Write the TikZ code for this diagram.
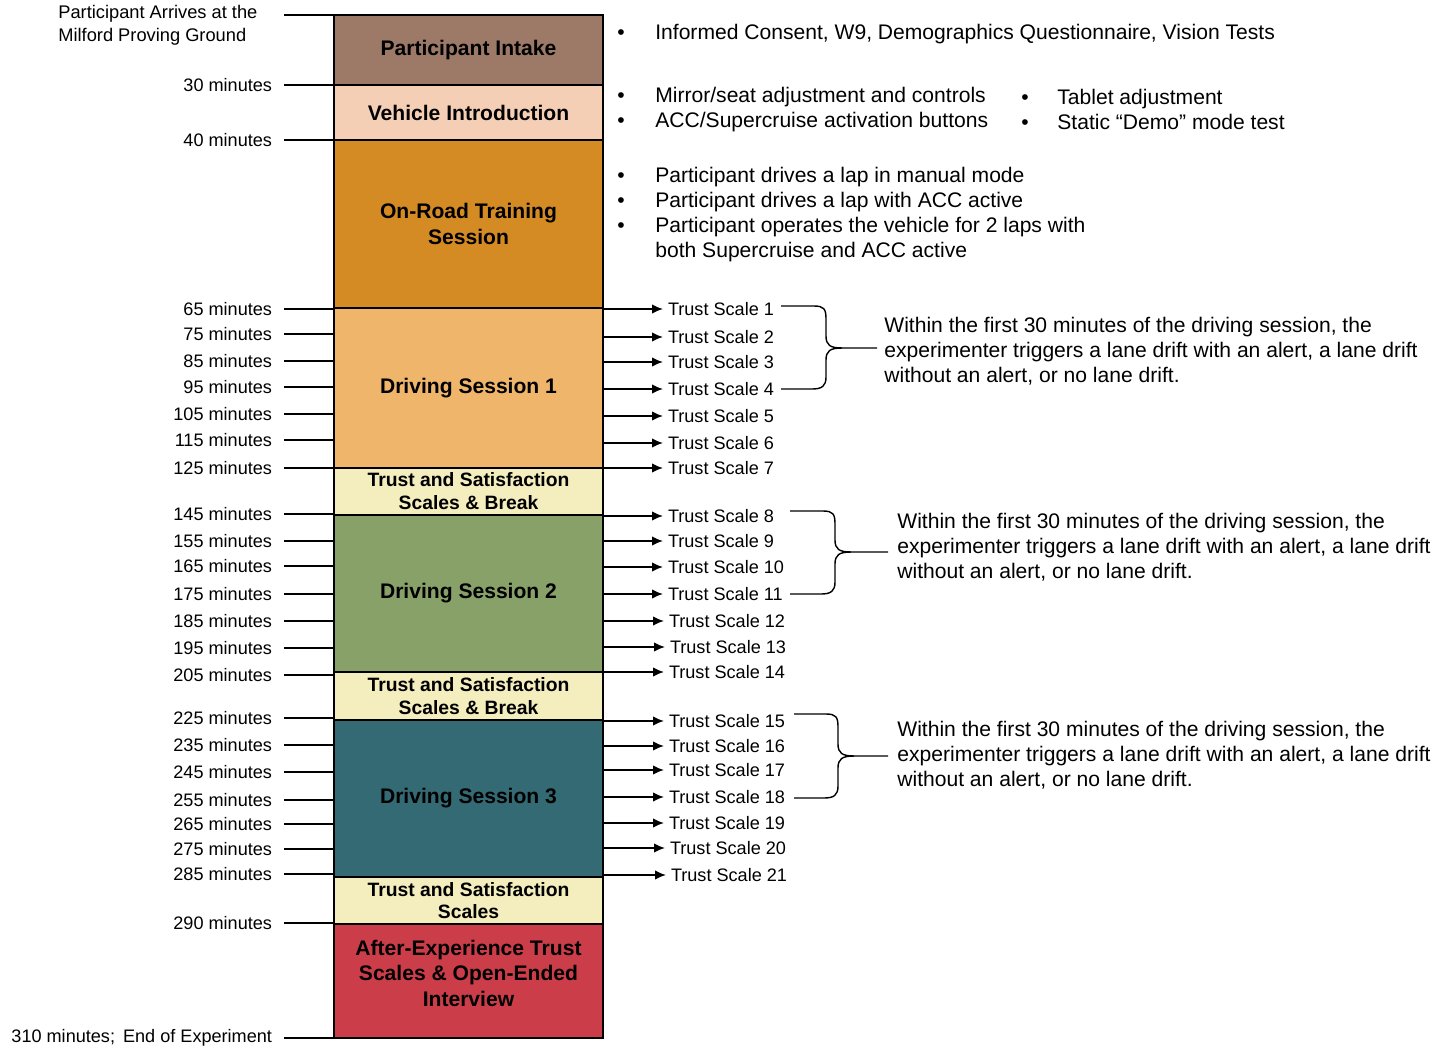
\documentclass[tikz,border=0pt]{standalone}
\usepackage{fontspec}
\setmainfont{Liberation Sans}
\usetikzlibrary{arrows.meta}
\definecolor{intake}{RGB}{156,122,103}
\definecolor{vintro}{RGB}{245,207,181}
\definecolor{onroad}{RGB}{212,139,36}
\definecolor{drive1}{RGB}{239,182,107}
\definecolor{tsb}{RGB}{244,237,190}
\definecolor{drive2}{RGB}{136,161,105}
\definecolor{drive3}{RGB}{52,106,115}
\definecolor{after}{RGB}{203,61,73}

\begin{document}
\begin{tikzpicture}[x=0.02cm,y=-0.02cm]
 \tikzstyle{stage}=[draw,line width=0.9pt,minimum width=5.38cm,inner sep=0pt,outer sep=0pt,align=center,font=\fontsize{12}{14.5}\selectfont\bfseries]
 \tikzstyle{tsbox}=[stage,fill=tsb,font=\fontsize{11}{13}\selectfont\bfseries]
 \tikzstyle{timelbl}=[anchor=east,inner sep=0pt,outer xsep=0.24cm,font=\fontsize{10.3}{13}\selectfont]
 \tikzstyle{scalelbl}=[anchor=west,inner sep=0pt,outer xsep=0.1cm,font=\fontsize{10.3}{13}\selectfont]
 \tikzstyle{tick}=[line width=0.9pt]
 \tikzstyle{toscale}=[-{Latex[length=2.2mm,width=1.9mm]},line width=0.9pt]
 \tikzstyle{note}=[anchor=west,align=left,inner sep=0pt,font=\fontsize{12}{14.2}\selectfont]
 \tikzstyle{brc}=[line width=0.8pt]
 \useasboundingbox (0,0) rectangle (1436,1048);
 % timeline blocks
 \node[stage,fill=intake,minimum height=1.4cm] (intake) at (468.5,50) {Participant Intake};
 \node[stage,fill=vintro,minimum height=1.1cm] (vintro) at (468.5,112.5) {Vehicle Introduction};
 \node[stage,fill=onroad,minimum height=3.36cm] (onroad) at (468.5,224) {On-Road Training\\Session};
 \node[stage,fill=drive1,minimum height=3.2cm] (drive1) at (468.5,388) {Driving Session 1};
 \node[tsbox,minimum height=0.94cm] (break1) at (468.5,491.5) {Trust and Satisfaction\\Scales \& Break};
 \node[stage,fill=drive2,minimum height=3.14cm] (drive2) at (468.5,593.5) {Driving Session 2};
 \node[tsbox,minimum height=0.96cm] (break2) at (468.5,696) {Trust and Satisfaction\\Scales \& Break};
 \node[stage,fill=drive3,minimum height=3.14cm] (drive3) at (468.5,798.5) {Driving Session 3};
 \node[tsbox,minimum height=0.94cm] (break3) at (468.5,900.5) {Trust and Satisfaction\\Scales};
 \node[stage,fill=after,minimum height=2.28cm] (after) at (468.5,981) {After-Experience Trust\\Scales \& Open-Ended\\Interview\\[-0.2cm]};
 % times on the left
 \node[anchor=north west,align=left,inner sep=0pt,font=\fontsize{10.4}{13}\selectfont] (arrive) at (58,5) {Participant Arrives at the\\Milford Proving Ground};
 \coordinate (t0) at (284,15);
 \draw[tick] (t0) -- (t0 -| intake.west);
 \node[timelbl] (t30) at (284,85) {30 minutes};
 \node[timelbl] (t40) at (284,140) {40 minutes};
 \node[timelbl] (t65) at (284,309) {65 minutes};
 \node[timelbl] (t75) at (284,334) {75 minutes};
 \node[timelbl] (t85) at (284,361) {85 minutes};
 \node[timelbl] (t95) at (284,387) {95 minutes};
 \node[timelbl] (t105) at (284,414) {105 minutes};
 \node[timelbl] (t115) at (284,440) {115 minutes};
 \node[timelbl] (t125) at (284,468) {125 minutes};
 \node[timelbl] (t145) at (284,514) {145 minutes};
 \node[timelbl] (t155) at (284,541) {155 minutes};
 \node[timelbl] (t165) at (284,566) {165 minutes};
 \node[timelbl] (t175) at (284,594) {175 minutes};
 \node[timelbl] (t185) at (284,621) {185 minutes};
 \node[timelbl] (t195) at (284,648) {195 minutes};
 \node[timelbl] (t205) at (284,675) {205 minutes};
 \node[timelbl] (t225) at (284,718) {225 minutes};
 \node[timelbl] (t235) at (284,745) {235 minutes};
 \node[timelbl] (t245) at (284,772) {245 minutes};
 \node[timelbl] (t255) at (284,800) {255 minutes};
 \node[timelbl] (t265) at (284,824) {265 minutes};
 \node[timelbl] (t275) at (284,849) {275 minutes};
 \node[timelbl] (t285) at (284,874) {285 minutes};
 \node[timelbl] (t290) at (284,923) {290 minutes};
 \node[timelbl] (t310) at (284,1038) {310 minutes;\, End of Experiment};
 \draw[tick] (t30.east) -- (t30.east -| vintro.west);
 \draw[tick] (t40.east) -- (t40.east -| onroad.west);
 \draw[tick] (t65.east) -- (t65.east -| drive1.west);
 \draw[tick] (t75.east) -- (t75.east -| drive1.west);
 \draw[tick] (t85.east) -- (t85.east -| drive1.west);
 \draw[tick] (t95.east) -- (t95.east -| drive1.west);
 \draw[tick] (t105.east) -- (t105.east -| drive1.west);
 \draw[tick] (t115.east) -- (t115.east -| drive1.west);
 \draw[tick] (t125.east) -- (t125.east -| break1.west);
 \draw[tick] (t145.east) -- (t145.east -| drive2.west);
 \draw[tick] (t155.east) -- (t155.east -| drive2.west);
 \draw[tick] (t165.east) -- (t165.east -| drive2.west);
 \draw[tick] (t175.east) -- (t175.east -| drive2.west);
 \draw[tick] (t185.east) -- (t185.east -| drive2.west);
 \draw[tick] (t195.east) -- (t195.east -| drive2.west);
 \draw[tick] (t205.east) -- (t205.east -| break2.west);
 \draw[tick] (t225.east) -- (t225.east -| drive3.west);
 \draw[tick] (t235.east) -- (t235.east -| drive3.west);
 \draw[tick] (t245.east) -- (t245.east -| drive3.west);
 \draw[tick] (t255.east) -- (t255.east -| drive3.west);
 \draw[tick] (t265.east) -- (t265.east -| drive3.west);
 \draw[tick] (t275.east) -- (t275.east -| drive3.west);
 \draw[tick] (t285.east) -- (t285.east -| break3.west);
 \draw[tick] (t290.east) -- (t290.east -| after.west);
 \draw[tick] (t310.east) -- (t310.east -| after.west);
 % trust scales on the right
 \node[scalelbl] (s1) at (663,309) {Trust Scale 1};
 \node[scalelbl] (s2) at (663,337) {Trust Scale 2};
 \node[scalelbl] (s3) at (663,362) {Trust Scale 3};
 \node[scalelbl] (s4) at (663,389) {Trust Scale 4};
 \node[scalelbl] (s5) at (663,416) {Trust Scale 5};
 \node[scalelbl] (s6) at (663,443) {Trust Scale 6};
 \node[scalelbl] (s7) at (663,468) {Trust Scale 7};
 \node[scalelbl] (s8) at (663,516) {Trust Scale 8};
 \node[scalelbl] (s9) at (663,541) {Trust Scale 9};
 \node[scalelbl] (s10) at (663,567) {Trust Scale 10};
 \node[scalelbl] (s11) at (663,594) {Trust Scale 11};
 \node[scalelbl] (s12) at (664,621) {Trust Scale 12};
 \node[scalelbl] (s13) at (665,647) {Trust Scale 13};
 \node[scalelbl] (s14) at (664,672) {Trust Scale 14};
 \node[scalelbl] (s15) at (664,721) {Trust Scale 15};
 \node[scalelbl] (s16) at (664,746) {Trust Scale 16};
 \node[scalelbl] (s17) at (664,770) {Trust Scale 17};
 \node[scalelbl] (s18) at (664,797) {Trust Scale 18};
 \node[scalelbl] (s19) at (664,823) {Trust Scale 19};
 \node[scalelbl] (s20) at (665,848) {Trust Scale 20};
 \node[scalelbl] (s21) at (666,875) {Trust Scale 21};
 \draw[toscale] (s1.west -| drive1.east) -- (s1.west);
 \draw[toscale] (s2.west -| drive1.east) -- (s2.west);
 \draw[toscale] (s3.west -| drive1.east) -- (s3.west);
 \draw[toscale] (s4.west -| drive1.east) -- (s4.west);
 \draw[toscale] (s5.west -| drive1.east) -- (s5.west);
 \draw[toscale] (s6.west -| drive1.east) -- (s6.west);
 \draw[toscale] (s7.west -| drive1.east) -- (s7.west);
 \draw[toscale] (s8.west -| drive2.east) -- (s8.west);
 \draw[toscale] (s9.west -| drive2.east) -- (s9.west);
 \draw[toscale] (s10.west -| drive2.east) -- (s10.west);
 \draw[toscale] (s11.west -| drive2.east) -- (s11.west);
 \draw[toscale] (s12.west -| drive2.east) -- (s12.west);
 \draw[toscale] (s13.west -| drive2.east) -- (s13.west);
 \draw[toscale] (s14.west -| drive2.east) -- (s14.west);
 \draw[toscale] (s15.west -| drive3.east) -- (s15.west);
 \draw[toscale] (s16.west -| drive3.east) -- (s16.west);
 \draw[toscale] (s17.west -| drive3.east) -- (s17.west);
 \draw[toscale] (s18.west -| drive3.east) -- (s18.west);
 \draw[toscale] (s19.west -| drive3.east) -- (s19.west);
 \draw[toscale] (s20.west -| drive3.east) -- (s20.west);
 \draw[toscale] (s21.west -| drive3.east) -- (s21.west);
 % braces and notes
 \node[note] (note1) at (884,351) {Within the first 30 minutes of the driving session, the\\experimenter triggers a lane drift with an alert, a lane drift\\without an alert, or no lane drift.};
 \node[note] (note2) at (897,547) {Within the first 30 minutes of the driving session, the\\experimenter triggers a lane drift with an alert, a lane drift\\without an alert, or no lane drift.};
 \node[note] (note3) at (897,755) {Within the first 30 minutes of the driving session, the\\experimenter triggers a lane drift with an alert, a lane drift\\without an alert, or no lane drift.};
 \draw[brc] (781,306) -- (814,306) .. controls (824,306) and (826,309) .. (826,319) -- (826,336) .. controls (826,345) and (830,348) .. (842,348) -- (877,348);
 \draw[brc] (842,348) .. controls (830,348) and (826,351) .. (826,360) -- (826,377) .. controls (826,386) and (822,389) .. (812,389) -- (781,389);
 \draw[brc] (790,511) -- (823,511) .. controls (833,511) and (835,514) .. (835,524) -- (835,540) .. controls (835,549) and (839,552) .. (851,552) -- (888,552);
 \draw[brc] (851,552) .. controls (839,552) and (835,555) .. (835,564) -- (835,582) .. controls (835,591) and (831,594) .. (821,594) -- (790,594);
 \draw[brc] (794,714) -- (826,714) .. controls (836,714) and (838,717) .. (838,727) -- (838,744) .. controls (838,753) and (842,756) .. (854,756) -- (888,756);
 \draw[brc] (854,756) .. controls (842,756) and (838,759) .. (838,768) -- (838,786) .. controls (838,795) and (834,798) .. (824,798) -- (794,798);
 % activities at the top
 \node[note] (act1) at (617,34) {\makebox[0.76cm][l]{\textbullet}Informed Consent, W9, Demographics Questionnaire, Vision Tests};
 \node[note] (act2) at (617,109.5) {\makebox[0.76cm][l]{\textbullet}Mirror/seat adjustment and controls\\\makebox[0.76cm][l]{\textbullet}ACC/Supercruise activation buttons};
 \node[note] (act3) at (1021,109.5) {\makebox[0.72cm][l]{\textbullet}Tablet adjustment\\\makebox[0.72cm][l]{\textbullet}Static “Demo” mode test};
 \node[note] (act4) at (617,214.5) {\makebox[0.76cm][l]{\textbullet}Participant drives a lap in manual mode\\\makebox[0.76cm][l]{\textbullet}Participant drives a lap with ACC active\\\makebox[0.76cm][l]{\textbullet}Participant operates the vehicle for 2 laps with\\\hspace*{0.76cm}both Supercruise and ACC active};
\end{tikzpicture}
\end{document}
